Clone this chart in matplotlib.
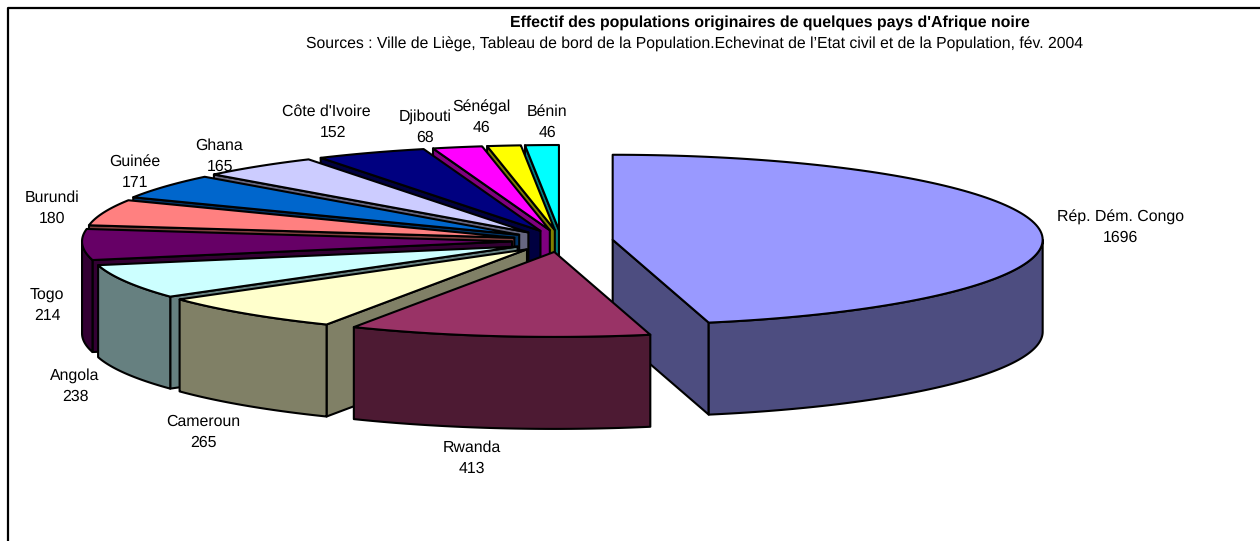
import numpy as np
import matplotlib
matplotlib.use('Agg')
import matplotlib.pyplot as plt
from matplotlib.patches import Polygon

plt.rcParams['font.family'] = ['Liberation Sans', 'DejaVu Sans']
plt.rcParams['text.hinting'] = 'none'

pays = ['Rép. Dém. Congo', 'Rwanda', 'Cameroun', 'Angola', 'Togo', 'Burundi',
        'Guinée', 'Ghana', "Côte d'Ivoire", 'Djibouti', 'Sénégal', 'Bénin']
effectifs = [1696, 413, 265, 238, 214, 180, 171, 165, 152, 68, 46, 46]

couleurs = ['#9999FF', '#993366', '#FFFFCC', '#CCFFFF', '#660066', '#FF8080',
            '#0066CC', '#CCCCFF', '#000080', '#FF00FF', '#FFFF00', '#00FFFF']
# label centres in pixels: name line, then value line 21 px below
pos_labels = [(1120.5, 217), (472, 448), (203, 422), (75, 376), (47, 295), (52, 198),
              (135, 162), (220, 146), (333, 112), (425, 117), (481, 107), (547, 112)]
decal_nom = [0, 0, 0, 0, 0, 0, 0, -1, -7, 0, 0, 0]
# small pixel corrections on the left hand slices
decal_x = [0, 0, 0, 4, 3, 3, 1, 0, 0, 0, 0, 0]
decal_y = [0, 0, 0, 1, 0, 0, 0, 0, 0, 0, 0, 0]

# pie geometry
cx, cy = 561, 241
rx, ry = 430, 85
ex, ey = 52, 11
depth = 92


def sombre(c):
    r, g, b = matplotlib.colors.to_rgb(c)
    return (r * 0.5, g * 0.5, b * 0.5)


fig = plt.figure(figsize=(12.6, 5.41), dpi=100)
ax = fig.add_axes([0, 0, 1, 1])
ax.set_xlim(0, 1260)
ax.set_ylim(541, 0)
ax.axis('off')

# frame, runs off the right and bottom of the picture
ax.plot([8, 8, 1260], [541, 7.5, 7.5], color='black', lw=1.6, solid_capstyle='butt')

total = sum(effectifs)
bornes = np.cumsum([0] + effectifs) / total * 2 * np.pi
tranches = []
for i in range(len(pays)):
    t0, t1 = bornes[i], bornes[i + 1]
    mid = (t0 + t1) / 2
    ax0 = cx + ex * np.sin(mid) + decal_x[i]
    ay0 = cy - ey * np.cos(mid) + decal_y[i]
    tranches.append((i, t0, t1, ax0, ay0))

# back to front: from Bénin round the left side, Congo and Rwanda last
ordre = [11, 10, 9, 8, 7, 6, 5, 4, 3, 2, 0, 1]
for i in ordre:
    _, t0, t1, x0, y0 = tranches[i]
    c = couleurs[i]
    d = sombre(c)
    t = np.linspace(t0, t1, 120)
    xs = x0 + rx * np.sin(t)
    ys = y0 - ry * np.cos(t)
    style = dict(edgecolor='black', lw=1.5, joinstyle='round')

    # radial walls, only the ones turned towards the viewer
    murs = []
    if t0 > np.pi:
        murs.append(0)
    if t1 < np.pi:
        murs.append(-1)
    for k in murs:
        mur = [(x0, y0), (xs[k], ys[k]), (xs[k], ys[k] + depth), (x0, y0 + depth)]
        ax.add_patch(Polygon(mur, closed=True, facecolor=d, **style))

    # outer wall, only the front half of the ellipse shows
    a = max(t0, np.pi / 2)
    b = min(t1, 3 * np.pi / 2)
    if b > a:
        ta = np.linspace(a, b, 120)
        xa = x0 + rx * np.sin(ta)
        ya = y0 - ry * np.cos(ta)
        mur = np.r_[np.c_[xa, ya], np.c_[xa, ya + depth][::-1]]
        ax.add_patch(Polygon(mur, closed=True, facecolor=d, **style))

    # top
    dessus = np.r_[[[x0, y0]], np.c_[xs, ys]]
    ax.add_patch(Polygon(dessus, closed=True, facecolor=c, **style))

for nom, val, (lx, ly), dn in zip(pays, effectifs, pos_labels, decal_nom):
    ax.text(lx + dn, ly, nom, ha='center', va='center', fontsize=11.4, color='black')
    ax.text(lx, ly + 21, str(val), ha='center', va='center', fontsize=11.4, color='black')

ax.text(770, 23, "Effectif des populations originaires de quelques pays d'Afrique noire",
        ha='center', va='center', fontsize=11.45, fontweight='bold')
ax.text(694.5, 44, "Sources : Ville de Liège, Tableau de bord de la Population.Echevinat de l’Etat civil et de la Population, fév. 2004",
        ha='center', va='center', fontsize=11.35)

fig.savefig('out.png', dpi=100)
